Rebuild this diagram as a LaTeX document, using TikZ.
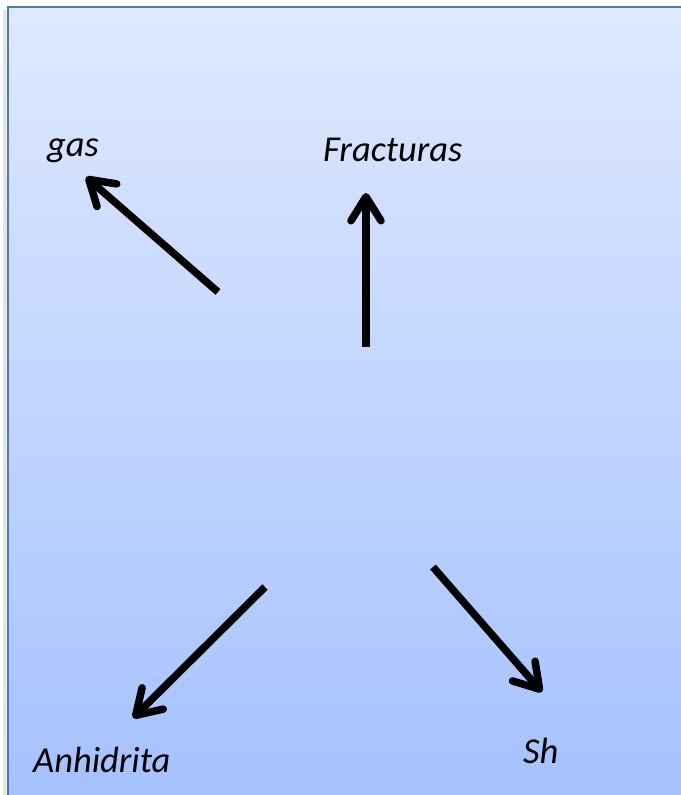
\documentclass[tikz,border=0pt]{standalone}
\usepackage{fontspec}
\setmainfont{Carlito}
\usetikzlibrary{arrows.meta}
\definecolor{bgtop}{HTML}{DFE9FF}
\definecolor{bgbot}{HTML}{A4C1FE}
\definecolor{frame}{HTML}{4A7EBB}
\tikzset{
  lbl/.style={anchor=base west, inner sep=0pt, font=\fontsize{36.5}{40}\selectfont\itshape},
  arr/.style={line width=7.5pt, black, -{Straight Barb[length=24pt, width=30pt, round, line width=7.5pt]}}
}
\begin{document}
\begin{tikzpicture}[x=1pt, y=-1pt]
\useasboundingbox (0,0) rectangle (680,795);
\fill[black, opacity=0.10] (3,10) rectangle (690,805);
\shade[top color=bgtop, bottom color=bgbot, draw=frame, line width=2pt] (8,7) rectangle (690,805);
\node[lbl] (gas) at (47,156) {gas};
\node[lbl] (frac) at (323,161) {Fracturas};
\node[lbl] (anh) at (33,772) {Anhidrita};
\node[lbl] (sh) at (523,763) {Sh};
\coordinate (c1) at (218,292);
\coordinate (t1) at (86,177);
\coordinate (c2) at (366,347);
\coordinate (t2) at (366,193);
\coordinate (c3) at (265,587);
\coordinate (t3) at (133,718);
\coordinate (c4) at (433,567);
\coordinate (t4) at (542,692);
\draw[arr] (c1) -- (t1);
\draw[arr] (c2) -- (t2);
\draw[arr] (c3) -- (t3);
\draw[arr] (c4) -- (t4);
\end{tikzpicture}
\end{document}
